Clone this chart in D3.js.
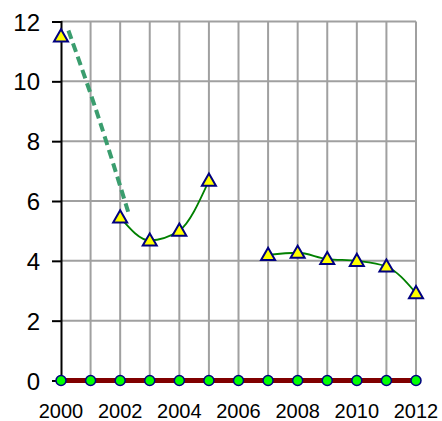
<!DOCTYPE html>
<html>
<head>
<meta charset="utf-8">
<script src="https://cdn.jsdelivr.net/npm/d3@7"></script>
<style>
  body { margin: 0; background: #fff; }
  text { font-family: "Liberation Sans", Arial, sans-serif; fill: #000; }
</style>
</head>
<body>
<div id="chart"></div>
<script>
// Data
var years = [2000, 2001, 2002, 2003, 2004, 2005, 2006, 2007, 2008, 2009, 2010, 2011, 2012];
var yTicks = [0, 2, 4, 6, 8, 10, 12];
var xTicks = [2000, 2002, 2004, 2006, 2008, 2010, 2012];

// triangle markers (yellow)
var markYears = [2000, 2002, 2003, 2004, 2005, 2007, 2008, 2009, 2010, 2011, 2012];
var markValues = [11.5, 5.45, 4.68, 5.01, 6.68, 4.2, 4.27, 4.06, 4.0, 3.81, 2.92];

// smoothed green segments
var segA = [[2002, 5.45], [2003, 4.68], [2004, 5.01], [2005, 6.68]];
var segB = [[2007, 4.2], [2008, 4.27], [2009, 4.06], [2010, 4.0], [2011, 3.81], [2012, 2.92]];

// dashed trend piece
var dashYears = [2000.25, 2001.2, 2002.27];
var dashValues = [11.7, 9.0, 5.64];

// zero baseline
var zeroValues = [0, 0, 0, 0, 0, 0, 0, 0, 0, 0, 0, 0, 0];

var width = 442, height = 421;
var margin = {top: 21.5, right: 26, bottom: 40.5, left: 61};

var svg = d3.select('#chart').append('svg')
  .attr('width', width)
  .attr('height', height);

var x = d3.scaleLinear().domain([2000, 2012]).range([margin.left, width - margin.right]);
var y = d3.scaleLinear().domain([0, 12]).range([height - margin.bottom, margin.top]);

// grid
svg.append('g').selectAll('line')
  .data(years.slice(1))
  .enter().append('line')
  .attr('x1', function(d) { return x(d); })
  .attr('x2', function(d) { return x(d); })
  .attr('y1', y(0))
  .attr('y2', y(12))
  .attr('stroke', '#a0a0a0')
  .attr('stroke-width', 2);

svg.append('g').selectAll('line')
  .data(yTicks.slice(1))
  .enter().append('line')
  .attr('x1', x(2000))
  .attr('x2', x(2012))
  .attr('y1', function(d) { return y(d); })
  .attr('y2', function(d) { return y(d); })
  .attr('stroke', '#a0a0a0')
  .attr('stroke-width', 2);

// y axis
var yAxis = svg.append('g')
  .attr('transform', 'translate(' + x(2000) + ',0)')
  .call(d3.axisLeft(y).tickValues(yTicks).tickSize(9).tickPadding(12));
yAxis.attr('font-size', null).attr('font-family', null);
yAxis.select('.domain').attr('stroke', '#000').attr('stroke-width', 2);
yAxis.selectAll('.tick line').attr('stroke', '#000').attr('stroke-width', 2);
yAxis.selectAll('text')
  .style('font-size', '24px')
  .attr('dy', '0.36em');

// x labels
svg.append('g').selectAll('text')
  .data(xTicks)
  .enter().append('text')
  .attr('x', function(d) { return x(d); })
  .attr('y', 411)
  .attr('dy', '0.35em')
  .attr('text-anchor', 'middle')
  .style('font-size', '20px')
  .text(function(d) { return d; });

// dashed piece
var line = d3.line()
  .x(function(d) { return x(d[0]); })
  .y(function(d) { return y(d[1]); });

svg.append('path')
  .datum(d3.zip(dashYears, dashValues))
  .attr('d', line.curve(d3.curveCatmullRom))
  .attr('fill', 'none')
  .attr('stroke', '#3a9d6e')
  .attr('stroke-width', 4)
  .attr('stroke-dasharray', '9,5');

// smoothed green lines
var smooth = d3.line()
  .x(function(d) { return x(d[0]); })
  .y(function(d) { return y(d[1]); })
  .curve(d3.curveMonotoneX);

[segA, segB].forEach(function(seg) {
  svg.append('path')
    .datum(seg)
    .attr('d', smooth)
    .attr('fill', 'none')
    .attr('stroke', '#008000')
    .attr('stroke-width', 1.8);
});

// zero line
svg.append('path')
  .datum(d3.zip(years, zeroValues))
  .attr('d', d3.line().x(function(d) { return x(d[0]); }).y(function(d) { return y(d[1]); }))
  .attr('fill', 'none')
  .attr('stroke', '#800000')
  .attr('stroke-width', 5);

svg.append('g').selectAll('circle')
  .data(d3.zip(years, zeroValues))
  .enter().append('circle')
  .attr('cx', function(d) { return x(d[0]); })
  .attr('cy', function(d) { return y(d[1]); })
  .attr('r', 5)
  .attr('fill', '#00ff00')
  .attr('stroke', '#000080')
  .attr('stroke-width', 1.5);

// triangles
var tri = d3.symbol().type(d3.symbolTriangle).size(85);
svg.append('g').selectAll('path')
  .data(d3.zip(markYears, markValues))
  .enter().append('path')
  .attr('d', tri)
  .attr('transform', function(d) { return 'translate(' + x(d[0]) + ',' + (y(d[1]) + 1) + ')'; })
  .attr('fill', '#ffff00')
  .attr('stroke', '#000080')
  .attr('stroke-width', 2);
</script>
</body>
</html>
